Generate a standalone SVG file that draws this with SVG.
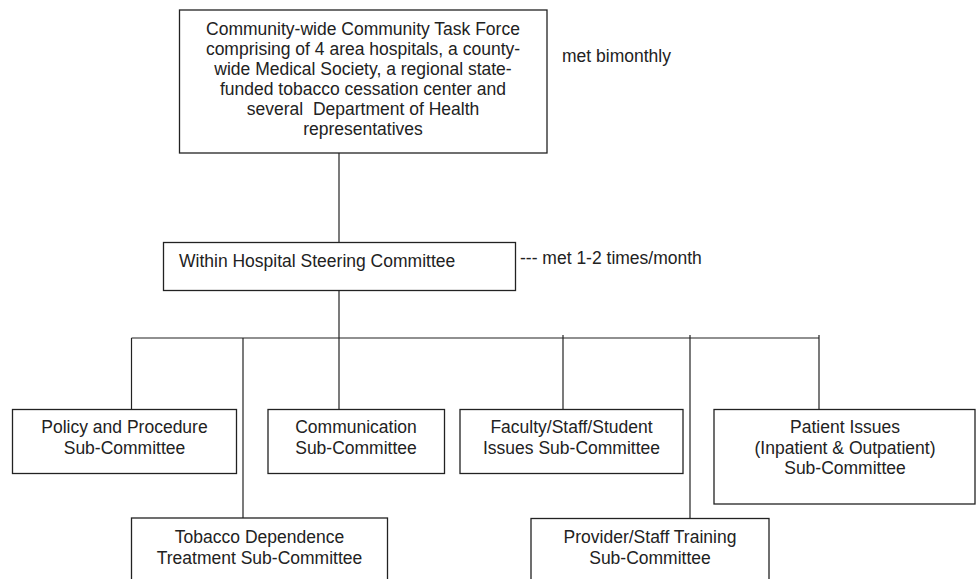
<svg xmlns="http://www.w3.org/2000/svg" width="976" height="579" viewBox="0 0 976 579">
<style>
.box{fill:#fff;stroke:#222;stroke-width:1.3}
.t{font-family:"Liberation Sans",Arial,sans-serif;font-size:17.5px;fill:#222}
.c{text-anchor:middle}
.ln{stroke:#222;stroke-width:1.2;fill:none}
</style>
<rect width="976" height="579" fill="#fff"/>
<g id="connectors">
<line class="ln" x1="339" y1="153" x2="339" y2="242"/>
<line class="ln" x1="339" y1="290" x2="339" y2="409"/>
<line class="ln" x1="131.5" y1="338" x2="819" y2="338"/>
<line class="ln" x1="131.5" y1="338" x2="131.5" y2="409"/>
<line class="ln" x1="243" y1="338" x2="243" y2="518"/>
<line class="ln" x1="563" y1="335" x2="563" y2="409"/>
<line class="ln" x1="690" y1="335" x2="690" y2="518"/>
<line class="ln" x1="819" y1="335" x2="819" y2="409"/>
</g>
<g id="taskforce">
<rect class="box" x="179.5" y="10" width="367.5" height="143"/>
<text class="t c" x="363" y="35">Community-wide Community Task Force</text>
<text class="t c" x="363" y="55">comprising of 4 area hospitals, a county-</text>
<text class="t c" x="363" y="75">wide Medical Society, a regional state-</text>
<text class="t c" x="363" y="95">funded tobacco cessation center and</text>
<text class="t c" x="363" y="115" xml:space="preserve">several  Department of Health</text>
<text class="t c" x="363" y="135">representatives</text>
</g>
<g id="note1"><text class="t" x="562" y="61.5">met bimonthly</text></g>
<g id="steering">
<rect class="box" x="163.5" y="242.5" width="352" height="48"/>
<text class="t" x="179" y="267">Within Hospital Steering Committee</text>
</g>
<g id="note2"><text class="t" x="520" y="264">--- met 1-2 times/month</text></g>
<g id="policy">
<rect class="box" x="12.5" y="409.5" width="224" height="64"/>
<text class="t c" x="124.5" y="433">Policy and Procedure</text>
<text class="t c" x="124.5" y="454">Sub-Committee</text>
</g>
<g id="communication">
<rect class="box" x="268" y="409.5" width="176.5" height="64"/>
<text class="t c" x="356" y="433">Communication</text>
<text class="t c" x="356" y="454">Sub-Committee</text>
</g>
<g id="faculty">
<rect class="box" x="460" y="409.5" width="223" height="64"/>
<text class="t c" x="571.5" y="433">Faculty/Staff/Student</text>
<text class="t c" x="571.5" y="454">Issues Sub-Committee</text>
</g>
<g id="patient">
<rect class="box" x="714" y="409.5" width="261" height="94.5"/>
<text class="t c" x="845" y="433">Patient Issues</text>
<text class="t c" x="845" y="453.5">(Inpatient &amp; Outpatient)</text>
<text class="t c" x="845" y="474">Sub-Committee</text>
</g>
<g id="tobacco">
<rect class="box" x="131.5" y="518" width="256" height="80"/>
<text class="t c" x="259.5" y="543">Tobacco Dependence</text>
<text class="t c" x="259.5" y="564">Treatment Sub-Committee</text>
</g>
<g id="provider">
<rect class="box" x="531" y="518.5" width="238" height="80"/>
<text class="t c" x="650" y="543">Provider/Staff Training</text>
<text class="t c" x="650" y="564">Sub-Committee</text>
</g>
</svg>
